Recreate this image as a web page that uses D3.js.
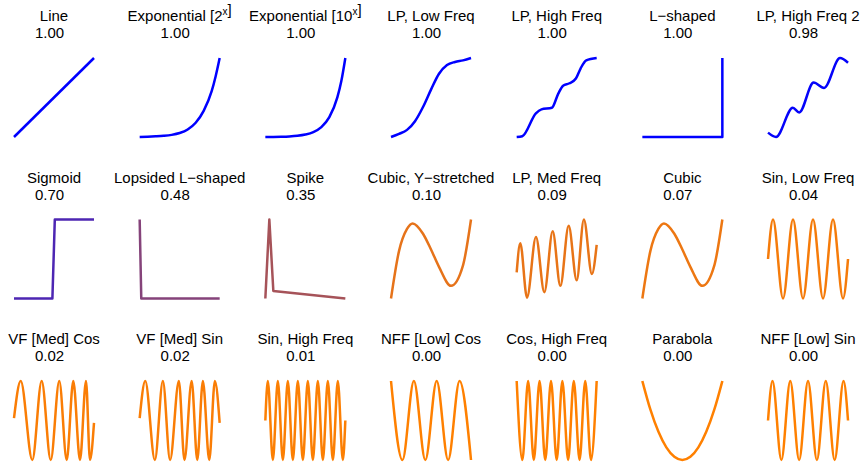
<!DOCTYPE html>
<html>
<head>
  <meta charset="utf-8">
  <style>
  body { margin: 0; background: #fff; }
  text {
    font-family: "Liberation Sans", Arial, Helvetica, sans-serif;
    font-size: 15px;
    fill: #000;
  }
  .curve {
    fill: none;
    stroke-width: 2.5;
    stroke-linejoin: round;
  }
  </style>
</head>
<body>
<script src="https://cdn.jsdelivr.net/npm/d3@7"></script>
<script>
// panel titles and scores, read left to right, top to bottom
var titles = [
  "Line", "Exponential [2^x]", "Exponential [10^x]", "LP, Low Freq", "LP, High Freq", "L\u2212shaped", "LP, High Freq 2",
  "Sigmoid", "Lopsided L\u2212shaped", "Spike", "Cubic, Y\u2212stretched", "LP, Med Freq", "Cubic", "Sin, Low Freq",
  "VF [Med] Cos", "VF [Med] Sin", "Sin, High Freq", "NFF [Low] Cos", "Cos, High Freq", "Parabola", "NFF [Low] Sin"
];
var scores = [
  1.00, 1.00, 1.00, 1.00, 1.00, 1.00, 0.98,
  0.70, 0.48, 0.35, 0.10, 0.09, 0.07, 0.04,
  0.02, 0.02, 0.01, 0.00, 0.00, 0.00, 0.00
];

// curve samples [x, y], both scaled 0..1 inside each panel
var line = [[0, 0], [1, 1]];
var exp2 = [[0, 0], [0.1, 0.003], [0.2, 0.008], [0.3, 0.015], [0.4, 0.027], [0.5, 0.05],
  [0.6, 0.095], [0.7, 0.18], [0.8, 0.33], [0.9, 0.58], [0.95, 0.77], [1, 1]];
var exp10 = [[0, 0], [0.1, 0.001], [0.2, 0.003], [0.3, 0.007], [0.4, 0.015], [0.5, 0.031],
  [0.6, 0.062], [0.7, 0.125], [0.8, 0.251], [0.9, 0.501], [0.95, 0.708], [1, 1]];
var lpLow = [[0, 0], [0.1, 0.04], [0.2, 0.09], [0.3, 0.2], [0.4, 0.38], [0.5, 0.6],
  [0.6, 0.8], [0.7, 0.91], [0.8, 0.95], [0.9, 0.97], [1, 1]];
var lpHigh = [[0, 0], [0.07, 0.01], [0.24, 0.3], [0.31, 0.35], [0.44, 0.37], [0.52, 0.55],
  [0.58, 0.65], [0.66, 0.68], [0.74, 0.74], [0.8, 0.87], [0.87, 0.97], [1, 1]];
var lShaped = [[0, 0], [1, 0], [1, 1]];
var lpHigh2 = [[0, 0.055], [0.1, 0], [0.31, 0.37], [0.39, 0.31],
  [0.57, 0.69], [0.7, 0.62], [0.9, 1], [1, 0.94]];

var sigmoid = [[0, 0], [0.48, 0], [0.51, 1], [1, 1]];
var lopsided = [[0, 1], [0.02, 0], [1, 0]];
var spike = [[0, 0], [0.05, 1], [0.1, 0.095], [1, 0]];
var cubicY = [[0, 0], [0.1, 0.6], [0.2, 0.88], [0.27, 0.95], [0.4, 0.82], [0.5, 0.62],
  [0.6, 0.4], [0.75, 0.16], [0.9, 0.42], [1, 1]];
var lpMed = [[0, 0.33], [0.045, 0.7], [0.129, 0.01], [0.241, 0.78], [0.346, 0.08], [0.45, 0.85],
  [0.546, 0.16], [0.65, 0.92], [0.75, 0.23], [0.84, 1], [0.94, 0.31], [1, 0.68]];
var cubic = [[0, 0], [0.1, 0.6], [0.2, 0.88], [0.27, 0.95], [0.4, 0.82], [0.5, 0.62],
  [0.6, 0.4], [0.75, 0.16], [0.9, 0.42], [1, 1]];
var sinLow = [[0, 0.5], [0.0625, 1], [0.1875, 0], [0.3125, 1], [0.4375, 0], [0.5625, 1],
  [0.6875, 0], [0.8125, 1], [0.9375, 0], [1, 0.5]];

var vfCos = [[0, 0.53], [0.084, 1], [0.229, 0], [0.346, 1], [0.459, 0], [0.566, 1],
  [0.659, 0], [0.741, 1], [0.825, 0], [0.9, 1], [0.95, 0], [1, 0.47]];
var vfSin = [[0, 0.53], [0.07, 1], [0.19, 0], [0.29, 1], [0.38, 0], [0.49, 1],
  [0.56, 0], [0.65, 1], [0.72, 0], [0.79, 1], [0.87, 0], [0.94, 1], [1, 0.47]];
var sinHigh = [[0, 0.5], [0.031, 1], [0.094, 0], [0.156, 1], [0.219, 0], [0.281, 1], [0.344, 0],
  [0.406, 1], [0.469, 0], [0.531, 1], [0.594, 0], [0.656, 1], [0.719, 0], [0.781, 1],
  [0.844, 0], [0.906, 1], [0.969, 0], [1, 0.5]];
var nffCos = [[0, 1], [0.143, 0], [0.286, 1], [0.429, 0], [0.571, 1], [0.714, 0], [0.857, 1], [1, 0]];
var cosHigh = [[0, 1], [0.071, 0], [0.143, 1], [0.214, 0], [0.286, 1], [0.357, 0], [0.429, 1],
  [0.5, 0], [0.571, 1], [0.643, 0], [0.714, 1], [0.786, 0], [0.857, 1], [0.929, 0], [1, 1]];
var parabola = [[0, 1], [0.1, 0.64], [0.2, 0.36], [0.3, 0.16], [0.4, 0.04], [0.5, 0],
  [0.6, 0.04], [0.7, 0.16], [0.8, 0.36], [0.9, 0.64], [1, 1]];
var nffSin = [[0, 0.5], [0.056, 1], [0.167, 0], [0.278, 1], [0.389, 0], [0.5, 1],
  [0.611, 0], [0.722, 1], [0.833, 0], [0.944, 1], [1, 0.5]];

var shapes = [
  line, exp2, exp10, lpLow, lpHigh, lShaped, lpHigh2,
  sigmoid, lopsided, spike, cubicY, lpMed, cubic, sinLow,
  vfCos, vfSin, sinHigh, nffCos, cosHigh, parabola, nffSin
];
// drawn with straight segments, the rest are smooth
var straight = [line, lShaped, sigmoid, lopsided, spike];

var width = 864, height = 464;
var cols = 7,
    left = 14, colStep = 125.67, plotW = 80,
    top0 = 58, rowStep = 161.5, plotH = 79;

var color = d3.scaleLinear().domain([0, 1]).range(["#ff8000", "#0000ff"]);
var fmt = d3.format(".2f");

var svg = d3.select("body").append("svg")
    .attr("width", width)
    .attr("height", height);

shapes.forEach(function(pts, i) {
  var c = i % cols, r = Math.floor(i / cols);
  var x0 = left + c * colStep, y0 = top0 + r * rowStep;

  var x = d3.scaleLinear().domain([0, 1]).range([x0, x0 + plotW]);
  var y = d3.scaleLinear().domain([0, 1]).range([y0 + plotH, y0]);

  var g = svg.append("g");

  // title, with ^x turned into a superscript
  var t = g.append("text")
      .attr("x", x0 + plotW / 2)
      .attr("y", y0 - 37)
      .attr("text-anchor", "middle");
  var parts = titles[i].split(/\^(\w)/);
  parts.forEach(function(p, k) {
    if (k % 2 === 0) {
      t.append("tspan").text(p);
    } else {
      t.append("tspan").attr("dy", -6).style("font-size", "10px").text(p);
      t.append("tspan").attr("dy", 6).text("");
    }
  });

  g.append("text")
      .attr("x", x0 + plotW / 2 - 4.5)
      .attr("y", y0 - 20)
      .attr("text-anchor", "middle")
      .text(fmt(scores[i]));

  var gen = d3.line()
      .x(function(d) { return x(d[0]); })
      .y(function(d) { return y(d[1]); })
      .curve(straight.indexOf(pts) >= 0 ? d3.curveLinear : d3.curveMonotoneX);

  g.append("path")
      .datum(pts)
      .attr("class", "curve")
      .attr("stroke", color(scores[i]))
      .attr("d", gen);
});
</script>
</body>
</html>
